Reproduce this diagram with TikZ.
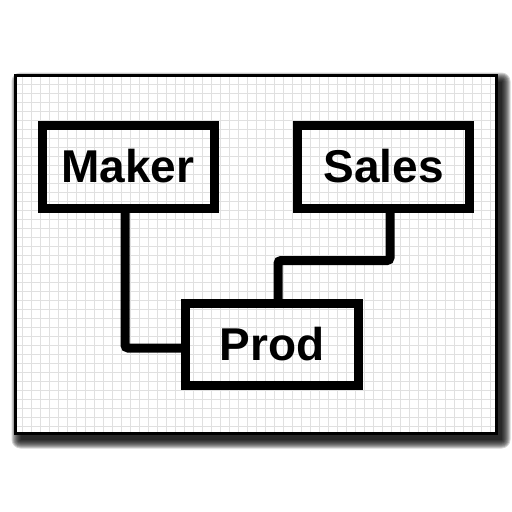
\documentclass[tikz,border=0pt]{standalone}
\usepackage{fontspec}
\setmainfont{Liberation Sans}

\begin{document}
\begin{tikzpicture}[x=1pt,y=-1pt]
\tikzstyle{block} = [rectangle, draw, line width=9pt, minimum width=172pt, minimum height=83pt, inner sep=0pt, font=\fontsize{46}{50}\selectfont\bfseries]
\tikzstyle{wire} = [draw, line width=9pt, rounded corners=3pt]
\tikzstyle{gridline} = [black!12, line width=1.2pt]
\useasboundingbox (0,0) rectangle (512,512);
% shadow of the sheet
\foreach \r in {0,...,9}
  \fill[black, opacity=0.17, rounded corners=\r pt] (20.5-\r,81.5-\r) rectangle (501.5+\r,439.5+\r);
% grid paper
\fill[white] (15.5,75.5) rectangle (496.5,433.5);
\foreach \x in {22.7,31.7,...,495}
  \draw[gridline] (\x,77.3) -- (\x,431.7);
\foreach \y in {84.3,93.3,...,432}
  \draw[gridline] (17.3,\y) -- (494.7,\y);
\draw[line width=3.5pt] (15.5,75.5) rectangle (496.5,433.5);
% boxes
\node[block] (maker) at (128,166.5) {Maker};
\node[block] (sales) at (383.5,166.5) {Sales};
\node[block, minimum width=173pt, minimum height=82pt] (prod) at (272,344.5) {Prod};
% links
\draw[wire] ([xshift=-3pt]maker.south) |- ([yshift=-3.5pt]prod.west);
\draw[wire] ([xshift=6.5pt]sales.south) -- ++(0,48) -| ([xshift=6pt]prod.north);
\end{tikzpicture}
\end{document}
